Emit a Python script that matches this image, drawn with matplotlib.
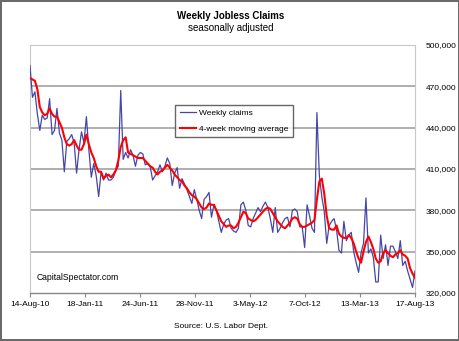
import numpy as np
import pandas as pd
import matplotlib
matplotlib.use("Agg")
import matplotlib.pyplot as plt
from matplotlib.patches import Rectangle

plt.rcParams['font.family'] = ['Liberation Sans', 'DejaVu Sans']

# weekly initial claims, thousands, 14-Aug-10 .. 17-Aug-13
weekly = [485, 462, 466, 450, 438, 449, 446, 447, 461, 435,
          438, 454, 436, 431, 408, 430, 432, 435, 429, 407,
          424, 437, 429, 448, 424, 404, 414, 405, 390, 408,
          402, 407, 402, 402, 404, 409, 412, 467, 417, 422,
          418, 424, 420, 412, 420, 422, 421, 413, 414, 412,
          402, 405, 408, 413, 408, 412, 418, 414, 398, 407,
          411, 396, 403, 399, 395, 390, 385, 395, 388, 380,
          374, 388, 390, 393, 375, 384, 380, 372, 364, 370,
          373, 374, 367, 365, 364, 367, 384, 386, 380, 369,
          368, 374, 378, 382, 379, 383, 386, 382, 374, 364,
          382, 364, 367, 371, 374, 375, 368, 380, 381, 379,
          368, 368, 353, 384, 376, 367, 364, 451, 405, 390,
          379, 356, 369, 372, 374, 366, 351, 349, 372, 358,
          362, 364, 350, 342, 335, 349, 356, 389, 349, 352,
          346, 328, 328, 362, 345, 355, 340, 354, 354, 350,
          345, 358, 340, 343, 336, 330, 324, 336]

moving_avg = [476, 475, 474, 468, 455, 451, 449, 450, 454, 450,
              448, 448, 444, 440, 433, 428, 427, 428, 431, 427,
              424, 424, 428, 435, 428, 422, 418, 412, 408, 408,
              403, 405, 406, 404, 406, 409, 416, 426, 431, 433,
              422, 421, 420, 419, 418, 418, 418, 416, 414, 412,
              411, 408, 406, 408, 409, 411, 413, 411, 409, 406,
              404, 402, 401, 398, 396, 393, 391, 390, 388, 385,
              382, 381, 382, 385, 384, 384, 380, 376, 372, 370,
              368, 369, 369, 367, 368, 371, 375, 379, 378, 374,
              373, 372, 373, 375, 377, 379, 381, 382, 381, 378,
              375, 372, 370, 368, 367, 369, 371, 374, 375, 374,
              370, 368, 368, 369, 370, 371, 373, 388, 401, 403,
              392, 376, 367, 366, 366, 369, 363, 361, 360, 360,
              362, 360, 356, 350, 345, 342, 350, 357, 361, 357,
              352, 345, 342, 343, 349, 351, 349, 347, 346, 348,
              349, 351, 348, 347, 345, 338, 334, 331]

tick_labels = ['14-Aug-10', '18-Jan-11', '24-Jun-11', '28-Nov-11',
               '3-May-12', '7-Oct-12', '13-Mar-13', '17-Aug-13']
y_ticks = [320000, 350000, 380000, 410000, 440000, 470000, 500000]

dates = pd.date_range('2010-08-14', periods=len(weekly), freq='7D')
tick_dates = pd.to_datetime(tick_labels, format='%d-%b-%y')
weekly = np.array(weekly) * 1000
moving_avg = np.array(moving_avg) * 1000

fig = plt.figure(figsize=(4.6, 3.41), dpi=100)
# grey frame round the whole picture
fig.patches.append(Rectangle((1 / 460, 1 / 341), 1 - 2 / 460, 1 - 2 / 341,
                             transform=fig.transFigure, fill=False,
                             edgecolor='#666666', linewidth=1.4, zorder=10))
ax = fig.add_axes([30 / 460, 48 / 341, 385 / 460, 248 / 341])

for v in y_ticks[1:-1]:
    ax.axhline(v, color='#a8a8a8', lw=1.3, zorder=1)

ax.plot(dates, weekly, color='#4646a8', lw=0.9, label='Weekly claims', zorder=3)
ax.plot(dates, moving_avg, color='#ff0000', lw=1.5, label='4-week moving average', zorder=4)

ax.set_xlim(dates[0], dates[-1])
ax.set_ylim(320000, 500000)

ax.set_xticks(tick_dates)
ax.set_xticklabels(tick_labels, fontsize=6)
ax.tick_params(axis='x', length=3, width=0.8, color='#888888', pad=3)

ax.yaxis.tick_right()
ax.set_yticks(y_ticks)
ax.set_yticklabels([f'{v:,}' for v in y_ticks], fontsize=6)
ax.tick_params(axis='y', length=0, pad=8)

for s in ['top', 'left', 'right']:
    ax.spines[s].set_color('#c8c8c8')
    ax.spines[s].set_linestyle((0, (1, 1)))
    ax.spines[s].set_linewidth(0.8)
ax.spines['bottom'].set_color('#888888')
ax.spines['bottom'].set_linewidth(1.0)

leg = ax.legend(loc='upper left', bbox_to_anchor=(145 / 385, (293 - 105) / 248),
                fontsize=6, frameon=True, fancybox=False, edgecolor='#404040',
                handlelength=2.0, handletextpad=0.3, borderpad=0.55,
                labelspacing=0.9, borderaxespad=0)
leg.get_frame().set_linewidth(1.0)

fig.text(231 / 460, 1 - 16 / 341, 'Weekly Jobless Claims', ha='center', va='center',
         fontsize=7, fontweight='bold')
fig.text(231 / 460, 1 - 28 / 341, 'seasonally adjusted', ha='center', va='center', fontsize=7)
fig.text(37 / 460, 1 - 278 / 341, 'CapitalSpectator.com', ha='left', va='center', fontsize=6.2)
fig.text(221 / 460, 1 - 327 / 341, 'Source: U.S. Labor Dept.', ha='center', va='center', fontsize=6)

fig.savefig('out.png', dpi=100)
